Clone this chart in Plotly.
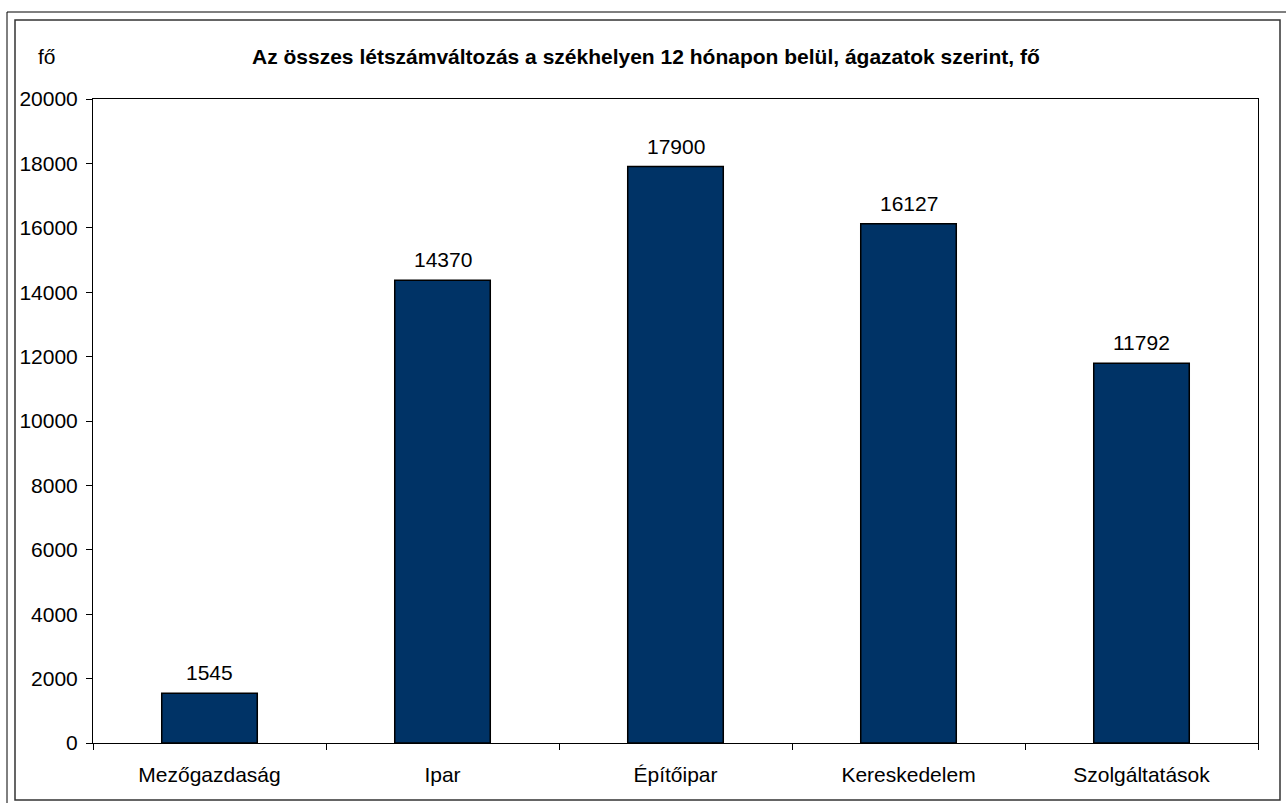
import plotly.graph_objects as go

categories = ["Mezőgazdaság", "Ipar", "Építőipar", "Kereskedelem", "Szolgáltatások"]
values = [1545, 14370, 17900, 16127, 11792]
y_ticks = [0, 2000, 4000, 6000, 8000, 10000, 12000, 14000, 16000, 18000, 20000]

W, H = 1286, 803
L, R, T, B = 93, 28, 99, 60
PW, PH = W - L - R, H - T - B

def px_x(p):
    return (p - L) / PW

def px_y(p):
    return (H - B - p) / PH

FONT = "Liberation Sans, Arial, sans-serif"
FS = 21

fig = go.Figure()
fig.add_trace(go.Bar(
    x=categories, y=values,
    width=0.41,
    marker=dict(color="#003366", line=dict(color="#000000", width=1.5)),
    hoverinfo="x+y",
))

for c, v in zip(categories, values):
    fig.add_annotation(x=c, y=v, text=str(v), showarrow=False,
                       yanchor="bottom", yshift=7,
                       font=dict(family=FONT, size=FS, color="#000"))

fig.add_annotation(xref="paper", yref="paper", x=px_x(646), y=px_y(57),
                   text="<b>Az összes létszámváltozás a székhelyen 12 hónapon belül, ágazatok szerint, fő</b>",
                   showarrow=False, xanchor="center", yanchor="middle",
                   font=dict(family=FONT, size=FS, color="#000"))
fig.add_annotation(xref="paper", yref="paper", x=px_x(47), y=px_y(57),
                   text="fő", showarrow=False, xanchor="center", yanchor="middle",
                   font=dict(family=FONT, size=FS, color="#000"))

# chart frames
fig.add_shape(type="rect", xref="paper", yref="paper",
              x0=px_x(7), y0=px_y(12), x1=px_x(1295), y1=px_y(812),
              line=dict(color="#000", width=1), layer="below")
fig.add_shape(type="rect", xref="paper", yref="paper",
              x0=px_x(15), y0=px_y(20), x1=px_x(1280), y1=px_y(800),
              line=dict(color="#333", width=1.5), layer="below")

fig.update_layout(
    width=W, height=H,
    margin=dict(l=L, r=R, t=T, b=B),
    paper_bgcolor="white", plot_bgcolor="white",
    showlegend=False,
    font=dict(family=FONT, size=FS, color="#000"),
)
fig.update_xaxes(
    type="category", tickson="boundaries", ticks="outside", ticklen=6,
    tickcolor="#000", showline=True, linecolor="#000", linewidth=1,
    mirror=True, showgrid=False, tickfont=dict(family=FONT, size=FS, color="#000"),
    ticklabelstandoff=13,
)
fig.update_yaxes(
    range=[0, 20000], tickvals=y_ticks, ticktext=[str(t) for t in y_ticks],
    ticks="outside", ticklen=6, tickcolor="#000", showline=True,
    linecolor="#000", linewidth=1, mirror=True, showgrid=False, zeroline=False,
    tickfont=dict(family=FONT, size=FS, color="#000"), ticklabelstandoff=4,
)

fig.write_html("out.html", config={"displayModeBar": False},
               post_script="document.body.style.margin='0';")
